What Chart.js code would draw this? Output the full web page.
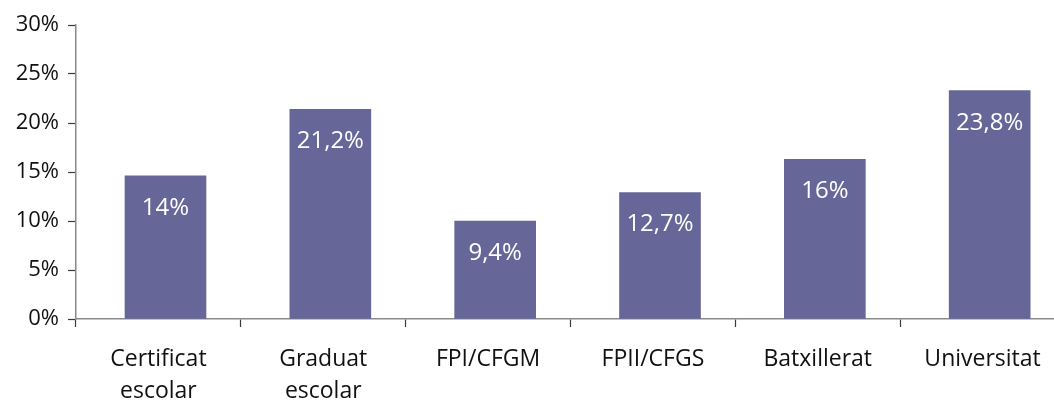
<!DOCTYPE html>
<html>
<head>
<meta charset="utf-8">
<script src="https://cdn.jsdelivr.net/npm/chart.js@4/dist/chart.umd.min.js"></script>
<style>
  html,body{margin:0;padding:0;background:#fff;overflow:hidden;}
  #wrap{width:1070px;height:403px;}
</style>
</head>
<body>
<div id="wrap"><canvas id="chart" width="1070" height="403"></canvas></div>
<script>
const categories = [["Certificat","escolar"],["Graduat","escolar"],"FPI/CFGM","FPII/CFGS","Batxillerat","Universitat"];
const values = [14.6, 21.4, 10.0, 12.9, 16.3, 23.3];
const valueLabels = ["14%","21,2%","9,4%","12,7%","16%","23,8%"];
const yMax = 30, yStep = 5;

const FONT = "'Open Sans', 'DejaVu Sans', sans-serif";
const BAR = "#666699";
const AXIS = "#8a8a8a";
const TICK = "#3a3a3a";
const shift = 0.043; // bars sit a bit right of the category centre

// labels inside bars
const barLabels = {
  id:"barLabels",
  afterDatasetsDraw(chart){
    const ctx = chart.ctx;
    const meta = chart.getDatasetMeta(0);
    ctx.save();
    ctx.fillStyle = "#ffffff";
    ctx.font = "24px " + FONT;
    ctx.textAlign = "center";
    ctx.textBaseline = "middle";
    meta.data.forEach((el,i)=>{
      ctx.fillText(valueLabels[i], el.x, el.y + 32);
    });
    ctx.restore();
  }
};

new Chart(document.getElementById("chart"),{
  type:"bar",
  data:{
    labels:categories,
    datasets:[{
      data: values.map((v,i)=>({x:i, y:v})),
      xAxisID:"xb",
      backgroundColor:BAR,
      borderWidth:0,
      barThickness:81
    }]
  },
  options:{
    responsive:false,
    animation:false,
    layout:{padding:{top:25,right:5,left:0,bottom:0}},
    plugins:{legend:{display:false}, tooltip:{enabled:false}},
    scales:{
      x:{
        type:"category",
        position:"bottom",
        offset:true,
        grid:{offset:true, drawOnChartArea:false, drawTicks:true, tickLength:8, tickColor:TICK, tickWidth:1.2},
        border:{display:true, color:AXIS, width:1.5},
        ticks:{color:"#111", font:{family:FONT, size:23, lineHeight:1.4}, padding:16, maxRotation:0, autoSkip:false},
        afterFit(s){ s.height = 84; }
      },
      xb:{
        type:"linear",
        display:false,
        position:"bottom",
        offset:false,
        grid:{offset:false},
        min:-0.5 - shift,
        max:categories.length - 0.5 - shift
      },
      y:{
        min:0, max:yMax,
        grid:{drawOnChartArea:false, drawTicks:true, tickLength:8, tickColor:TICK, tickWidth:1.2},
        border:{display:true, color:AXIS, width:1.5},
        ticks:{stepSize:yStep, color:"#111", font:{family:FONT, size:22}, padding:9, callback:v=>v+"%"},
        afterFit(s){ s.width = 76; }
      }
    }
  },
  plugins:[barLabels]
});
</script>
</body>
</html>
